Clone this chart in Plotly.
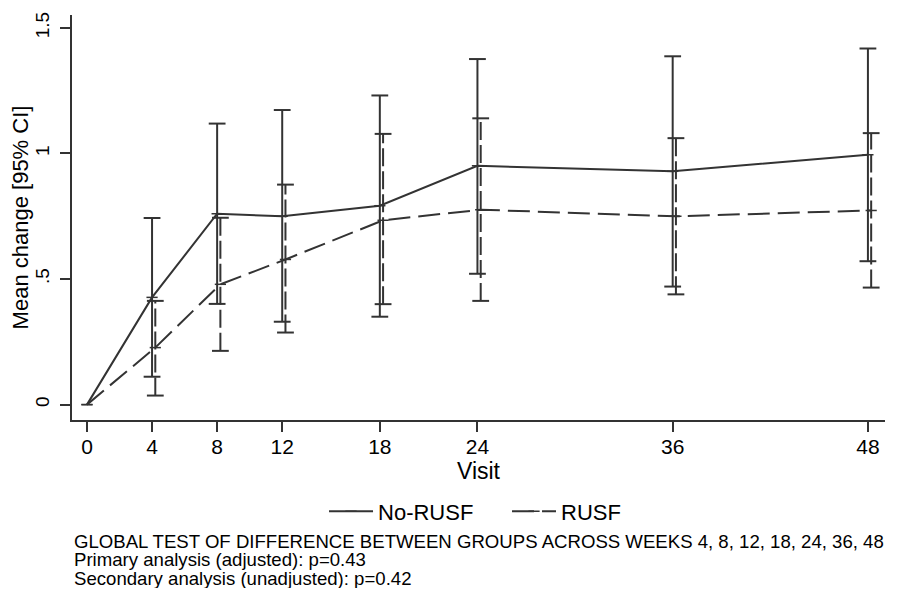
import plotly.graph_objects as go

# Visit weeks
visits = [0, 4, 8, 12, 18, 24, 36, 48]

# No-RUSF: mean change and 95% CI
no_rusf_mean = [0, 0.427, 0.760, 0.750, 0.792, 0.951, 0.929, 0.995]
no_rusf_lo = [None, 0.111, 0.401, 0.330, 0.350, 0.521, 0.470, 0.571]
no_rusf_hi = [None, 0.743, 1.119, 1.173, 1.231, 1.376, 1.387, 1.418]

# RUSF: mean change and 95% CI
rusf_mean = [0, 0.227, 0.479, 0.578, 0.734, 0.776, 0.750, 0.773]
rusf_lo = [None, 0.036, 0.214, 0.287, 0.400, 0.413, 0.439, 0.466]
rusf_hi = [None, 0.413, 0.744, 0.876, 1.078, 1.140, 1.061, 1.081]

y_ticks = [0, 0.5, 1, 1.5]
y_tick_labels = ["0", ".5", "1", "1.5"]

note_lines = [
    "GLOBAL TEST OF DIFFERENCE BETWEEN GROUPS ACROSS WEEKS 4, 8, 12, 18, 24, 36, 48",
    "Primary analysis (adjusted): p=0.43",
    "Secondary analysis (unadjusted): p=0.42",
]

INK = "#333333"
FONT = "Liberation Sans, Arial, sans-serif"
shift = 0.2  # RUSF drawn slightly to the right, as in the original

x_rusf = [v + shift if v > 0 else v for v in visits]

fig = go.Figure()


def add_ci(fig, xs, lo, hi, dash):
    # vertical CI lines, dashed or solid, plus caps at both ends
    seg_x, seg_y, cap_x, cap_y = [], [], [], []
    for x, a, b in zip(xs, lo, hi):
        if a is None:
            continue
        seg_x += [x, x, None]
        seg_y += [a, b, None]
        cap_x += [x, x]
        cap_y += [a, b]
    fig.add_trace(go.Scatter(x=seg_x, y=seg_y, mode="lines", showlegend=False,
                             line=dict(color=INK, width=2, dash=dash), hoverinfo="skip"))
    fig.add_trace(go.Scatter(x=cap_x, y=cap_y, mode="markers", showlegend=False,
                             marker=dict(symbol="line-ew", size=12,
                                         line=dict(color=INK, width=2)),
                             hoverinfo="skip"))


add_ci(fig, visits, no_rusf_lo, no_rusf_hi, "solid")
add_ci(fig, x_rusf, rusf_lo, rusf_hi, "18px,5px")

fig.add_trace(go.Scatter(
    x=visits, y=no_rusf_mean, mode="lines+markers", name="No-RUSF",
    line=dict(color=INK, width=2),
    marker=dict(symbol="line-ew", size=8, line=dict(color=INK, width=1.5))
))
fig.add_trace(go.Scatter(
    x=x_rusf, y=rusf_mean, mode="lines+markers", name="RUSF",
    line=dict(color=INK, width=2, dash="22px,8px"),
    marker=dict(symbol="line-ew", size=8, line=dict(color=INK, width=1.5))
))

# footnote, one annotation per line to keep Stata's tight spacing
for line, yy in zip(note_lines, [-0.300, -0.3456, -0.391]):
    fig.add_annotation(
        text=line, xref="paper", yref="paper", x=0.0, y=yy,
        xanchor="left", yanchor="middle", showarrow=False,
        font=dict(size=18.6, color="black", family=FONT)
    )

# page has an 8px body margin, so the figure is kept 16px smaller than the window
fig.update_layout(
    width=890, height=580,
    margin=dict(l=64, r=13, t=4, b=168),
    plot_bgcolor="white", paper_bgcolor="white",
    font=dict(family=FONT, color="black", size=19),
    showlegend=True,
    legend=dict(orientation="h", x=0.31, xanchor="left", y=-0.226, yanchor="middle",
                font=dict(size=22), itemwidth=44, entrywidth=124,
                bgcolor="rgba(0,0,0,0)"),
)

fig.update_xaxes(
    range=[-0.92, 49.05], tickvals=visits, ticks="outside", ticklen=10, tickwidth=1.5,
    tickcolor=INK, showline=True, linecolor=INK, linewidth=1.5, showgrid=False,
    zeroline=False, tickfont=dict(size=21),
    title=dict(text="Visit", standoff=1, font=dict(size=23)), ticklabelstandoff=-3,
)
fig.update_yaxes(
    range=[-0.0613, 1.5514], tickvals=y_ticks, ticktext=y_tick_labels, tickangle=-90,
    ticks="outside", ticklen=10, tickwidth=1.5, tickcolor=INK, showline=True,
    linecolor=INK, linewidth=1.5, showgrid=False, zeroline=False, tickfont=dict(size=19),
    title=dict(text="Mean change [95% CI]", standoff=0, font=dict(size=22)),
    ticklabelstandoff=4,
)

fig.write_html("out.html")
